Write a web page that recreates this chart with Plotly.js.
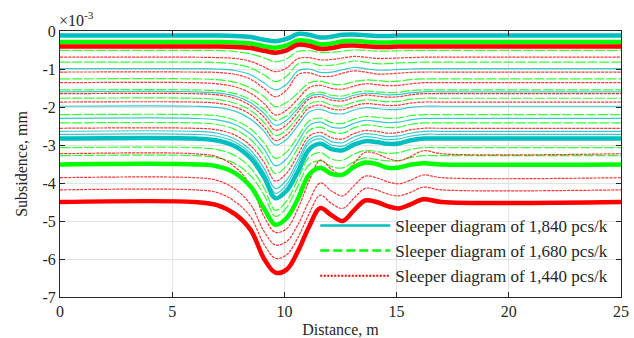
<!DOCTYPE html>
<html><head><meta charset="utf-8">
<script src="https://cdn.plot.ly/plotly-3.0.1.min.js"></script>
<style>html,body{margin:0;padding:0;background:#fff;} #chart{width:634px;height:338px;}</style>
</head><body><div id="chart"></div>
<script>
// Distance knots along the track, m
const distance = [0, 6, 7, 7.8, 8.5, 9.1, 9.6, 10.1, 10.6, 11.1, 11.6, 12.1, 12.6, 13.1, 13.6, 14.1, 14.6, 15.1, 15.6, 16.2, 17, 25];

const seriesNames = ['Sleeper diagram of 1,840 pcs/k', 'Sleeper diagram of 1,680 pcs/k', 'Sleeper diagram of 1,440 pcs/k'];

// Subsidence curves (x 10^-3 mm), sleeper diagram 1,840 pcs/k
const sleepers1840 = [
  [-0.12,-0.12,-0.12,-0.13,-0.16,-0.23,-0.27,-0.21,-0.08,-0.10,-0.17,-0.15,-0.10,-0.09,-0.11,-0.13,-0.13,-0.12,-0.12,-0.12,-0.12,-0.12],
  [-0.99,-0.99,-1.00,-1.04,-1.15,-1.37,-1.55,-1.40,-1.05,-1.00,-1.09,-1.08,-1.02,-0.96,-0.99,-1.03,-1.03,-1.01,-1.00,-0.99,-0.99,-0.99],
  [-1.60,-1.60,-1.63,-1.71,-1.89,-2.17,-2.48,-2.35,-2.04,-1.73,-1.67,-1.76,-1.78,-1.69,-1.64,-1.65,-1.68,-1.67,-1.63,-1.60,-1.60,-1.60],
  [-1.98,-1.98,-2.01,-2.11,-2.32,-2.64,-3.00,-2.85,-2.49,-2.13,-2.06,-2.16,-2.18,-2.08,-2.02,-2.04,-2.07,-2.06,-2.01,-1.98,-1.98,-1.98],
  [-2.30,-2.30,-2.34,-2.46,-2.71,-3.11,-3.55,-3.36,-2.93,-2.49,-2.40,-2.53,-2.55,-2.43,-2.35,-2.38,-2.41,-2.40,-2.34,-2.30,-2.30,-2.30],
  [-2.64,-2.64,-2.69,-2.84,-3.14,-3.62,-4.15,-3.92,-3.40,-2.87,-2.76,-2.91,-2.94,-2.79,-2.70,-2.73,-2.78,-2.76,-2.69,-2.64,-2.64,-2.64],
  [-2.72,-2.72,-2.77,-2.92,-3.23,-3.73,-4.27,-4.04,-3.50,-2.95,-2.84,-3.00,-3.03,-2.88,-2.78,-2.81,-2.86,-2.84,-2.77,-2.72,-2.72,-2.72],
  [-2.83,-2.83,-2.88,-3.03,-3.35,-3.85,-4.40,-4.20,-3.70,-3.12,-2.97,-3.11,-3.14,-2.99,-2.90,-2.92,-2.97,-2.96,-2.88,-2.83,-2.83,-2.83]
];

// sleeper diagram 1,680 pcs/k
const sleepers1680 = [
  [-0.29,-0.29,-0.29,-0.30,-0.33,-0.40,-0.44,-0.38,-0.25,-0.27,-0.35,-0.33,-0.27,-0.26,-0.28,-0.30,-0.30,-0.29,-0.29,-0.29,-0.29,-0.29],
  [-0.51,-0.51,-0.51,-0.54,-0.60,-0.71,-0.81,-0.73,-0.54,-0.52,-0.56,-0.56,-0.53,-0.50,-0.51,-0.53,-0.53,-0.52,-0.51,-0.51,-0.51,-0.51],
  [-0.82,-0.82,-0.83,-0.87,-0.97,-1.16,-1.33,-1.19,-0.87,-0.83,-0.91,-0.90,-0.85,-0.79,-0.82,-0.86,-0.86,-0.84,-0.83,-0.82,-0.82,-0.82],
  [-1.26,-1.26,-1.28,-1.35,-1.50,-1.73,-1.99,-1.88,-1.63,-1.37,-1.32,-1.39,-1.41,-1.33,-1.29,-1.30,-1.33,-1.32,-1.28,-1.26,-1.26,-1.26],
  [-1.55,-1.55,-1.57,-1.65,-1.81,-2.07,-2.35,-2.23,-1.95,-1.67,-1.61,-1.69,-1.71,-1.63,-1.58,-1.60,-1.62,-1.61,-1.57,-1.55,-1.55,-1.55],
  [-1.77,-1.77,-1.80,-1.90,-2.09,-2.41,-2.75,-2.60,-2.26,-1.92,-1.85,-1.95,-1.97,-1.87,-1.81,-1.83,-1.86,-1.85,-1.80,-1.77,-1.77,-1.77],
  [-2.20,-2.20,-2.23,-2.35,-2.58,-2.95,-3.35,-3.18,-2.78,-2.37,-2.29,-2.41,-2.43,-2.32,-2.25,-2.27,-2.30,-2.29,-2.23,-2.20,-2.20,-2.20],
  [-2.42,-2.42,-2.46,-2.59,-2.86,-3.28,-3.75,-3.55,-3.09,-2.62,-2.53,-2.66,-2.69,-2.55,-2.47,-2.50,-2.54,-2.53,-2.46,-2.42,-2.42,-2.42],
  [-3.07,-3.07,-3.12,-3.28,-3.61,-4.14,-4.72,-4.47,-3.90,-3.32,-3.20,-3.37,-3.40,-3.24,-3.14,-3.17,-3.22,-3.20,-3.12,-3.07,-3.07,-3.07],
  [-3.28,-3.28,-3.33,-3.49,-3.81,-4.32,-4.88,-4.64,-4.08,-3.52,-3.41,-3.57,-3.60,-3.44,-3.34,-3.38,-3.42,-3.41,-3.33,-3.28,-3.28,-3.28],
  [-3.51,-3.51,-3.56,-3.74,-4.10,-4.68,-5.10,-4.92,-4.42,-3.78,-3.60,-3.76,-3.78,-3.58,-3.46,-3.50,-3.60,-3.59,-3.52,-3.48,-3.51,-3.51]
];

// sleeper diagram 1,440 pcs/k
const sleepers1440 = [
  [-0.41,-0.41,-0.41,-0.42,-0.45,-0.52,-0.57,-0.51,-0.36,-0.39,-0.47,-0.45,-0.39,-0.38,-0.40,-0.42,-0.42,-0.41,-0.41,-0.41,-0.41,-0.41],
  [-0.69,-0.69,-0.70,-0.72,-0.80,-0.95,-1.07,-0.97,-0.73,-0.70,-0.76,-0.75,-0.71,-0.67,-0.69,-0.72,-0.72,-0.71,-0.70,-0.69,-0.69,-0.69],
  [-1.08,-1.08,-1.09,-1.14,-1.27,-1.52,-1.73,-1.55,-1.15,-1.10,-1.19,-1.19,-1.11,-1.05,-1.08,-1.13,-1.13,-1.11,-1.09,-1.08,-1.08,-1.08],
  [-1.36,-1.36,-1.39,-1.47,-1.64,-1.91,-2.21,-2.08,-1.79,-1.49,-1.43,-1.51,-1.53,-1.45,-1.39,-1.41,-1.44,-1.43,-1.39,-1.36,-1.36,-1.36],
  [-1.65,-1.65,-1.68,-1.77,-1.97,-2.27,-2.61,-2.47,-2.13,-1.79,-1.73,-1.82,-1.84,-1.75,-1.69,-1.71,-1.74,-1.73,-1.68,-1.65,-1.65,-1.65],
  [-1.87,-1.87,-1.90,-2.00,-2.20,-2.53,-2.88,-2.73,-2.38,-2.02,-1.95,-2.05,-2.07,-1.97,-1.91,-1.93,-1.96,-1.95,-1.90,-1.87,-1.87,-1.87],
  [-2.56,-2.56,-2.60,-2.74,-3.02,-3.46,-3.95,-3.74,-3.26,-2.77,-2.67,-2.81,-2.84,-2.70,-2.62,-2.64,-2.69,-2.67,-2.60,-2.56,-2.56,-2.56],
  [-3.23,-3.23,-3.31,-3.58,-4.06,-4.89,-5.30,-5.20,-4.68,-3.95,-3.40,-3.64,-3.79,-3.48,-3.19,-3.23,-3.35,-3.42,-3.31,-3.15,-3.23,-3.23],
  [-3.86,-3.86,-3.93,-4.16,-4.57,-5.28,-5.63,-5.54,-5.10,-4.48,-4.00,-4.21,-4.34,-4.07,-3.82,-3.86,-3.97,-4.02,-3.93,-3.79,-3.86,-3.86],
  [-4.18,-4.18,-4.25,-4.49,-4.90,-5.62,-5.98,-5.89,-5.44,-4.81,-4.32,-4.54,-4.67,-4.40,-4.14,-4.18,-4.29,-4.34,-4.25,-4.11,-4.18,-4.18],
  [-4.50,-4.50,-4.58,-4.82,-5.24,-6.00,-6.36,-6.28,-5.80,-5.15,-4.66,-4.85,-5.00,-4.72,-4.46,-4.50,-4.61,-4.67,-4.57,-4.43,-4.50,-4.50]
];

const xTicks = [0, 5, 10, 15, 20, 25];
const xTickLabels = ['0', '5', '10', '15', '20', '25'];
const yTicks = [0, -1, -2, -3, -4, -5, -6, -7];
const yTickLabels = ['0', '-1', '-2', '-3', '-4', '-5', '-6', '-7'];

// ---- styling ----
const FONT = 'Liberation Serif, Times New Roman, serif';
const groups = [
  {data: sleepers1840, color: '#00BFBF', dash: 'solid', thick: [0, 7]},
  {data: sleepers1680, color: '#00FF00', dash: '10px,2px', thick: [0, 10]},
  {data: sleepers1440, color: '#FF0000', dash: '3px,1px', thick: [0, 10]}
];

const thinTraces = [], thickTraces = [], legendTraces = [];
groups.forEach((g, gi) => {
  g.data.forEach((ys, i) => {
    const isThick = g.thick.indexOf(i) >= 0;
    const tr = {
      type: 'scatter', mode: 'lines', x: distance, y: ys,
      showlegend: false, hoverinfo: 'skip', opacity: isThick ? 1 : 0.8,
      line: {color: g.color, width: isThick ? 4.5 : 1.2, shape: 'spline', smoothing: 1,
             dash: isThick ? 'solid' : g.dash}
    };
    (isThick ? thickTraces : thinTraces).push(tr);
  });
  legendTraces.push({
    type: 'scatter', mode: 'lines', x: [null], y: [null], name: seriesNames[gi],
    showlegend: true, legendrank: gi + 1,
    line: {color: g.color, width: gi === 2 ? 2 : 2.5, dash: gi === 0 ? 'solid' : (gi === 1 ? '9px,4px' : '2px,1.5px')}
  });
});

const axisCommon = {
  ticks: 'inside', ticklen: 5, tickwidth: 1, tickcolor: '#262626',
  showline: true, linecolor: '#262626', linewidth: 1, mirror: 'ticks',
  showgrid: true, gridcolor: '#e3e3e3', gridwidth: 1, zeroline: false,
  tickfont: {family: FONT, size: 16, color: '#262626'}
};

const layout = {
  width: 634, height: 338,
  margin: {l: 60, r: 13, t: 31, b: 41},
  paper_bgcolor: '#ffffff', plot_bgcolor: '#ffffff',
  font: {family: FONT, size: 16, color: '#262626'},
  showlegend: true,
  legend: {x: 0.455, y: 0.335, xanchor: 'left', yanchor: 'top', bgcolor: 'rgba(0,0,0,0)',
           font: {family: FONT, size: 17, color: '#262626'}, itemwidth: 70, tracegroupgap: 0},
  xaxis: Object.assign({}, axisCommon, {range: [0, 25], tickvals: xTicks, ticktext: xTickLabels,
           title: {text: 'Distance, m', font: {family: FONT, size: 16}, standoff: 8}}),
  yaxis: Object.assign({}, axisCommon, {range: [-7, 0], tickvals: yTicks, ticktext: yTickLabels,
           title: {text: 'Subsidence, mm', font: {family: FONT, size: 16}, standoff: 10}}),
  annotations: [{xref: 'paper', yref: 'paper', x: -0.005, y: 1.0, xanchor: 'left', yanchor: 'bottom',
                 text: '×10<sup>-3</sup>', showarrow: false, font: {family: FONT, size: 16, color: '#262626'}}]
};

Plotly.newPlot('chart', thinTraces.concat(thickTraces, legendTraces), layout, {staticPlot: true, displayModeBar: false});
</script></body></html>
